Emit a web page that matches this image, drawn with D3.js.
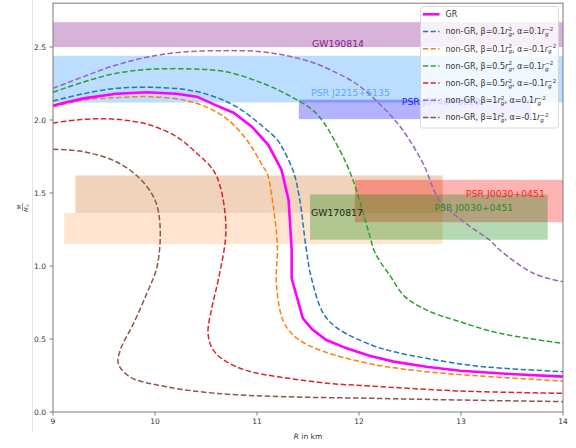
<!DOCTYPE html>
<html><head><meta charset="utf-8">
<script src="https://cdn.jsdelivr.net/npm/d3@7/dist/d3.min.js"></script>
<style>body{margin:0;background:#fff}svg{display:block;font-family:"DejaVu Sans",sans-serif}</style>
</head><body><svg id="c" width="576" height="448"></svg>
<script>
// ---- data ----
const xTicks = [9, 10, 11, 12, 13, 14];
const yTicks = [0.0, 0.5, 1.0, 1.5, 2.0, 2.5];

const grR = [9.0, 9.30, 9.62, 9.92, 10.21, 10.41, 10.60, 10.77, 10.95, 11.11, 11.24, 11.31, 11.34, 11.34, 11.45, 11.54, 11.68, 11.88, 12.11, 12.34, 12.66, 12.99, 13.48, 14.0];
const grM = [2.10, 2.148, 2.18, 2.19, 2.18, 2.16, 2.10, 2.05, 1.954, 1.83, 1.66, 1.45, 1.11, 0.916, 0.642, 0.566, 0.493, 0.436, 0.384, 0.345, 0.31, 0.283, 0.26, 0.242];

const c0R = [9.0, 9.30, 9.62, 9.95, 10.28, 10.54, 10.80, 11.06, 11.20, 11.26, 11.36, 11.42, 11.48, 11.53, 11.65, 11.79, 12.12, 12.34, 12.66, 13.15, 14.0];
const c0M = [2.13, 2.18, 2.217, 2.224, 2.21, 2.17, 2.09, 1.954, 1.863, 1.795, 1.64, 1.45, 1.13, 0.927, 0.676, 0.573, 0.459, 0.413, 0.368, 0.315, 0.276];

const c1R = [9.0, 9.30, 9.62, 9.95, 10.28, 10.50, 10.70, 10.90, 11.06, 11.10, 11.16, 11.20, 11.19, 11.26, 11.39, 11.66, 12.12, 12.34, 12.83, 14.0];
const c1M = [2.09, 2.137, 2.153, 2.16, 2.137, 2.09, 2.01, 1.863, 1.68, 1.635, 1.406, 1.13, 0.88, 0.62, 0.505, 0.413, 0.329, 0.303, 0.265, 0.212];

const c2R = [9.0, 9.30, 9.62, 9.95, 10.35, 10.70, 11.06, 11.32, 11.58, 11.81, 11.94, 12.10, 12.16, 12.31, 12.45, 12.66, 12.99, 13.38, 14.0];
const c2M = [2.19, 2.26, 2.32, 2.347, 2.35, 2.33, 2.25, 2.165, 2.046, 1.795, 1.59, 1.22, 1.087, 0.927, 0.79, 0.699, 0.618, 0.539, 0.47];

const c3R = [9.0, 9.23, 9.46, 9.69, 9.95, 10.21, 10.41, 10.57, 10.64, 10.69, 10.69, 10.62, 10.56, 10.52, 10.57, 10.70, 10.92, 11.22, 11.71, 12.11, 12.99, 14.0];
const c3M = [1.98, 2.0, 2.009, 2.0, 1.966, 1.886, 1.772, 1.658, 1.543, 1.338, 1.178, 0.904, 0.721, 0.539, 0.425, 0.345, 0.28, 0.24, 0.196, 0.178, 0.144, 0.128];

const c4R = [9.0, 9.30, 9.62, 9.95, 10.28, 10.67, 11.0, 11.26, 11.52, 11.65, 11.97, 12.23, 12.43, 12.63, 12.79, 13.05, 13.28, 13.38, 13.71, 14.0];
const c4M = [2.217, 2.297, 2.377, 2.434, 2.466, 2.475, 2.47, 2.445, 2.40, 2.365, 2.25, 2.09, 1.93, 1.70, 1.45, 1.29, 1.178, 1.11, 0.95, 0.892];

const c5R = [9.0, 9.30, 9.62, 9.85, 10.0, 10.05, 10.02, 9.92, 9.79, 9.66, 9.64, 9.75, 10.11, 10.60, 11.26, 12.11, 12.99, 14.0];
const c5M = [1.80, 1.783, 1.714, 1.60, 1.452, 1.269, 0.995, 0.813, 0.607, 0.425, 0.333, 0.242, 0.173, 0.128, 0.105, 0.094, 0.082, 0.071];

const betas = [0.1, 0.1, 0.5, 0.5, 1, 1];
const alphas = [0.1, -0.1, 0.1, -0.1, 0.1, -0.1];

// bands: [R0, R1, M0, M1]
const bandNames = ["GW190814", "PSR J2215+5135", "PSR J0740+6620", "GW170817 a", "GW170817 b", "PSR J0030+0451 (M)", "PSR J0030+0451 (R)"];
const bandR0 = [9, 9, 11.41, 9.22, 9.11, 11.96, 11.52];
const bandR1 = [14, 14, 13.69, 12.82, 12.82, 14, 13.85];
const bandM0 = [2.50, 2.12, 2.006, 1.363, 1.15, 1.30, 1.18];
const bandM1 = [2.67, 2.44, 2.139, 1.62, 1.363, 1.59, 1.49];

const labelText = ["GW190814", "PSR J2215+5135", "PSR J0740+6620", "GW170817", "PSR J0030+0451", "PSR J0030+0451"];
const labelR = [11.54, 11.53, 12.42, 11.53, 13.05, 12.74];
const labelM = [2.50, 2.165, 2.10, 1.345, 1.475, 1.375];

// ---- styles ----
const bandFill = ["#800080", "#1e90ff", "#0000ff", "#d2691e", "#ff7f0e", "#ff0000", "#008000"];
const bandAlpha = [0.3, 0.3, 0.3, 0.3, 0.2, 0.3, 0.3];
const labelColor = ["#8b1a8b", "#5aaaff", "#1a1aff", "#222222", "#ff2020", "#2a8a2a"];
const curveColors = ["#ff00ff", "#1f77b4", "#ff7f0e", "#2ca02c", "#d62728", "#9467bd", "#8c564b"];

const svg = d3.select("#c");
const x = d3.scaleLinear().domain([9, 14]).range([53, 563]);
const y = d3.scaleLinear().domain([0, 2.8]).range([412, 3.2]);

// figure edge line
svg.append("line").attr("x1", 32.5).attr("x2", 32.5).attr("y1", 0).attr("y2", 432).attr("stroke", "#e4e4e4");

// bands
[0, 1, 2, 3, 4, 5, 6].forEach(i => {
  svg.append("rect")
    .attr("x", x(bandR0[i])).attr("width", x(bandR1[i]) - x(bandR0[i]))
    .attr("y", y(bandM1[i])).attr("height", y(bandM0[i]) - y(bandM1[i]))
    .attr("fill", bandFill[i]).attr("fill-opacity", bandAlpha[i]);
});

// curves
const curves = [[grR, grM], [c0R, c0M], [c1R, c1M], [c2R, c2M], [c3R, c3M], [c4R, c4M], [c5R, c5M]];
const lineLin = d3.line().x(d => x(d[0])).y(d => y(d[1]));
const lineSm = d3.line().x(d => x(d[0])).y(d => y(d[1])).curve(d3.curveCatmullRom.alpha(0.5));
[1, 2, 3, 4, 5, 6, 0].forEach(k => {
  const pts = curves[k][0].map((r, i) => [r, curves[k][1][i]]);
  const p = svg.append("path").attr("d", (k === 0 ? lineLin : lineSm)(pts))
    .attr("fill", "none").attr("stroke", curveColors[k]);
  if (k === 0) p.attr("stroke-width", 2.6);
  else p.attr("stroke-width", 1.5).attr("stroke-dasharray", "5.5,2.5");
});

// labels
labelText.forEach((t, i) => {
  svg.append("text").attr("x", x(labelR[i])).attr("y", y(labelM[i]))
    .attr("font-size", 9.3).attr("fill", labelColor[i]).text(t);
});

// axes
const spine = "#7a7a7a";
svg.append("rect").attr("x", 53).attr("y", 3.2).attr("width", 510).attr("height", 408.8)
  .attr("fill", "none").attr("stroke", spine).attr("stroke-width", 1);
const gx = svg.append("g");
xTicks.forEach(v => {
  gx.append("line").attr("x1", x(v)).attr("x2", x(v)).attr("y1", 412).attr("y2", 415.5).attr("stroke", spine);
  gx.append("text").attr("x", x(v)).attr("y", 423.5).attr("text-anchor", "middle").attr("font-size", 7.5).attr("fill", "#333").text(d3.format("d")(v));
});
const gy = svg.append("g");
yTicks.forEach(v => {
  gy.append("line").attr("x1", 49.5).attr("x2", 53).attr("y1", y(v)).attr("y2", y(v)).attr("stroke", spine);
  gy.append("text").attr("x", 46).attr("y", y(v) + 2.7).attr("text-anchor", "end").attr("font-size", 7.5).attr("fill", "#333").text(d3.format(".1f")(v));
});

// x label
const xl = svg.append("text").attr("x", 308).attr("y", 438.5).attr("text-anchor", "middle").attr("font-size", 7.5).attr("fill", "#333");
xl.append("tspan").attr("font-style", "italic").text("R");
xl.append("tspan").text(" in km");

// y label (fraction)
const yl = svg.append("g").attr("transform", "translate(22.5,207) rotate(-90)");
yl.append("text").attr("x", 0).attr("y", -1.6).attr("text-anchor", "middle").attr("font-size", 5.5).attr("font-style", "italic").attr("fill", "#333").text("M");
yl.append("line").attr("x1", -4).attr("x2", 4).attr("y1", 0).attr("y2", 0).attr("stroke", "#333").attr("stroke-width", 0.5);
const den = yl.append("text").attr("x", -1).attr("y", 5.2).attr("text-anchor", "middle").attr("font-size", 5.5).attr("fill", "#333");
den.append("tspan").attr("font-style", "italic").text("M");
den.append("tspan").attr("font-size", 3.8).attr("dy", 1).text("⊙");

// legend
const lg = svg.append("g");
lg.append("rect").attr("x", 420.5).attr("y", 6.5).attr("width", 138).attr("height", 121.5).attr("rx", 2)
  .attr("fill", "#fff").attr("fill-opacity", 0.8).attr("stroke", "#d0d0d0").attr("stroke-width", 0.8);
const fmt = v => (Math.abs(v) >= 1 ? d3.format("d")(v) : String(v));
for (let k = 0; k < 7; k++) {
  const yy = 14.3 + k * 17.2;
  const ln = lg.append("line").attr("x1", 423).attr("x2", 439.5).attr("y1", yy).attr("y2", yy).attr("stroke", curveColors[k]);
  if (k === 0) ln.attr("stroke-width", 2.6);
  else ln.attr("stroke-width", 1.5).attr("stroke-dasharray", "5.2,2.4");
  const t = lg.append("text").attr("x", 445.5).attr("y", yy + 2.8).attr("font-size", 8).attr("fill", "#333");
  if (k === 0) { t.text("GR"); continue; }
  const b = betas[k - 1], a = alphas[k - 1];
  t.append("tspan").text("non-GR, β=" + fmt(b));
  t.append("tspan").attr("font-style", "italic").text("r");
  t.append("tspan").attr("font-style", "italic").attr("font-size", 5.6).attr("dy", 1.9).text("g");
  t.append("tspan").attr("font-size", 5.6).attr("dx", -3.5).attr("dy", -5.3).text("2");
  t.append("tspan").attr("dy", 3.4).text(", α=" + fmt(a));
  t.append("tspan").attr("font-style", "italic").text("r");
  t.append("tspan").attr("font-style", "italic").attr("font-size", 5.6).attr("dy", 1.9).text("g");
  t.append("tspan").attr("font-size", 5.6).attr("dx", -3.5).attr("dy", -5.3).text("−2");
}
</script></body></html>
